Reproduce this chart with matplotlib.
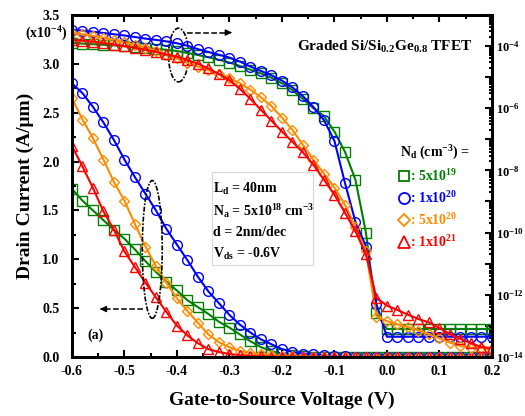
import numpy as np
import matplotlib
matplotlib.use("Agg")
import matplotlib.pyplot as plt
from matplotlib.patches import Ellipse, Rectangle
from matplotlib.lines import Line2D
from matplotlib.ticker import MultipleLocator, FixedLocator, LogLocator, FuncFormatter, NullFormatter

plt.rcParams["font.family"] = ["Liberation Serif", "DejaVu Serif"]
plt.rcParams["font.weight"] = "bold"
plt.rcParams["mathtext.fontset"] = "custom"
plt.rcParams["mathtext.rm"] = "Liberation Serif:bold"
plt.rcParams["mathtext.bf"] = "Liberation Serif:bold"
plt.rcParams["mathtext.it"] = "Liberation Serif:bold"
plt.rcParams["mathtext.default"] = "bf"
plt.rcParams["axes.unicode_minus"] = False

# gate voltage sweep (V)
vgs = np.round(np.arange(-0.6, 0.2001, 0.02), 2)

# drain current, linear scale (x1e-4 A/um)
lin_5e19 = [1.72, 1.60, 1.50, 1.40, 1.30, 1.21, 1.10, 0.98, 0.87, 0.77, 0.68, 0.58, 0.51, 0.44,
            0.36, 0.30, 0.23, 0.16, 0.10, 0.06, 0.03, 0.015, 0.008, 0.004, 0.002, 0.001,
            0, 0, 0, 0, 0, 0, 0, 0, 0, 0, 0, 0, 0, 0, 0]
lin_1e20 = [2.80, 2.70, 2.56, 2.40, 2.22, 2.02, 1.84, 1.67, 1.50, 1.31, 1.15, 0.99, 0.82, 0.67,
            0.55, 0.43, 0.33, 0.25, 0.18, 0.13, 0.08, 0.05, 0.035, 0.025, 0.015, 0.01, 0.005,
            0.003, 0.002, 0.001, 0, 0, 0, 0, 0, 0, 0, 0, 0, 0, 0]
lin_5e20 = [2.65, 2.43, 2.24, 2.02, 1.79, 1.60, 1.36, 1.13, 0.93, 0.76, 0.60, 0.47, 0.35, 0.23,
            0.15, 0.10, 0.06, 0.04, 0.025, 0.015, 0.01, 0.005, 0.003, 0.002, 0.001,
            0, 0, 0, 0, 0, 0, 0, 0, 0, 0, 0, 0, 0, 0, 0, 0]
lin_1e21 = [2.16, 1.95, 1.73, 1.49, 1.30, 1.08, 0.92, 0.76, 0.61, 0.46, 0.32, 0.22, 0.14, 0.08,
            0.05, 0.03, 0.018, 0.01, 0.006, 0.004, 0.002, 0.001,
            0, 0, 0, 0, 0, 0, 0, 0, 0, 0, 0, 0, 0, 0, 0, 0, 0, 0, 0]

# drain current, log scale (log10 of A/um)
log_5e19 = [-3.90, -3.92, -3.94, -3.96, -3.98, -4.00, -4.03, -4.06, -4.09, -4.12, -4.16, -4.22,
            -4.29, -4.36, -4.44, -4.53, -4.64, -4.76, -4.88, -5.02, -5.20, -5.42, -5.70, -6.00,
            -6.25, -6.75, -7.40, -8.30, -10.0, -12.6, -13.10, -13.10, -13.10, -13.10, -13.10,
            -13.10, -13.10, -13.10, -13.10, -13.10, -13.10]
log_1e20 = [-3.47, -3.50, -3.54, -3.58, -3.62, -3.66, -3.71, -3.76, -3.80, -3.85, -3.91, -3.99,
            -4.10, -4.19, -4.28, -4.37, -4.50, -4.66, -4.80, -4.94, -5.11, -5.33, -5.61, -5.96,
            -6.38, -7.05, -8.40, -9.65, -10.45, -12.3, -13.35, -13.35, -13.35, -13.35, -13.35,
            -13.35, -13.35, -13.35, -13.35, -13.35, -13.35]
log_5e20 = [-3.58, -3.62, -3.67, -3.73, -3.80, -3.88, -3.96, -4.06, -4.16, -4.28, -4.40, -4.54,
            -4.66, -4.78, -4.90, -5.03, -5.20, -5.40, -5.65, -5.93, -6.30, -6.70, -7.18, -7.66,
            -8.10, -8.55, -9.10, -9.82, -10.60, -12.70, -12.85, -12.95, -13.04, -13.15, -13.27,
            -13.40, -13.54, -13.65, -13.70, -13.72, -13.73]
log_1e21 = [-3.80, -3.83, -3.86, -3.90, -3.95, -4.00, -4.06, -4.12, -4.19, -4.27, -4.34, -4.45,
            -4.57, -4.72, -4.90, -5.10, -5.38, -5.70, -6.05, -6.40, -6.75, -7.08, -7.42, -7.82,
            -8.30, -8.78, -9.36, -9.95, -10.70, -12.10, -12.35, -12.49, -12.64, -12.78, -12.89,
            -13.07, -13.27, -13.42, -13.56, -13.68, -13.72]

lin_data = [lin_5e19, lin_1e20, lin_5e20, lin_1e21]
log_data = [log_5e19, log_1e20, log_5e20, log_1e21]
labels = [": 5x10$^{19}$", ": 1x10$^{20}$", ": 5x10$^{20}$", ": 1x10$^{21}$"]
colors = ["#008000", "#0000ff", "#ff8c00", "#ff0000"]
markers = ["s", "o", "D", "^"]
msizes = [6.5, 7, 5.5, 7.5]

fig = plt.figure(figsize=(5.25, 4.16), dpi=100)
ax = fig.add_axes([0.137, 0.142, 0.8, 0.822])
ax2 = ax.twinx()

for y, c, m, s in zip(lin_data, colors, markers, msizes):
    ax.plot(vgs, y, color=c, lw=1.5, marker=m, ms=s, mfc="none", mec=c, mew=1)

for y, c, m, s in zip(log_data, colors, markers, msizes):
    ax2.plot(vgs, 10.0 ** np.array(y), color=c, lw=1.5, marker=m, ms=s, mfc="none", mec=c, mew=1)

# left axis
ax.set_xlim(-0.6, 0.2)
ax.set_ylim(0, 3.5)
ax.xaxis.set_major_locator(MultipleLocator(0.1))
ax.xaxis.set_minor_locator(MultipleLocator(0.05))
ax.yaxis.set_major_locator(MultipleLocator(0.5))
ax.yaxis.set_minor_locator(MultipleLocator(0.25))
ax.xaxis.set_major_formatter(FuncFormatter(lambda v, p: f"{v:.1f}" if abs(v) > 1e-9 else "0.0"))
ax.yaxis.set_major_formatter(FuncFormatter(lambda v, p: f"{v:.1f}"))
ax.tick_params(which="both", direction="in", top=True, right=False, width=1.5, labelsize=10)
ax.tick_params(axis="y", which="major", length=5, pad=9)
ax.tick_params(axis="x", which="major", length=5, pad=6)
ax.tick_params(which="minor", length=3)
ax.set_xlabel("Gate-to-Source Voltage (V)", fontsize=14, fontweight="bold", labelpad=10)
ax.set_ylabel("Drain Current (A/\u03bcm)", fontsize=14, fontweight="bold", labelpad=6)

# right axis (log)
ax2.set_yscale("log")
ax2.set_ylim(1e-14, 1e-3)
ax2.yaxis.set_major_locator(FixedLocator(10.0 ** np.arange(-14, -2)))
ax2.yaxis.set_minor_locator(LogLocator(base=10, subs=np.arange(2, 10), numticks=20))
ax2.yaxis.set_minor_formatter(NullFormatter())


def even_decades(v, p):
    e = int(round(np.log10(v)))
    return f"$10^{{{e}}}$" if e % 2 == 0 else ""


ax2.yaxis.set_major_formatter(FuncFormatter(even_decades))
ax2.tick_params(which="both", direction="in", width=1.5, labelsize=9, pad=3)
ax2.tick_params(which="major", length=5)
ax2.tick_params(which="minor", length=2.5)

for a in (ax, ax2):
    for sp in a.spines.values():
        sp.set_linewidth(2)

# annotations
fig.text(0.088, 0.918, "(x10$^{-4}$)", fontsize=10, fontweight="bold", ha="center", va="center")
ax.text(0.952, 0.906, "Graded Si/Si$_{0.2}$Ge$_{0.8}$ TFET", transform=ax.transAxes,
        fontsize=11, fontweight="bold", ha="right", va="center")
ax.text(0.055, 0.064, "(a)", transform=ax.transAxes, fontsize=10, fontweight="bold",
        ha="center", va="center")

ax.add_patch(Rectangle((0.333, 0.269), 0.241, 0.272, transform=ax.transAxes,
                       facecolor="white", edgecolor="#d8d8d8", lw=0.8, zorder=1))
cond = ["L$_d$ = 40nm", "N$_a$ = 5x10$^{18}$ cm$^{-3}$", "d = 2nm/dec", "V$_{ds}$ = -0.6V"]
for txt, yy in zip(cond, [0.491, 0.427, 0.365, 0.301]):
    ax.text(0.337, yy, txt, transform=ax.transAxes, fontsize=10, fontweight="bold",
            ha="left", va="center", zorder=5)

# ellipses with dashed arrows pointing to the axis each group uses
ax.add_patch(Ellipse((-0.397, 3.09), 0.038, 0.55, fill=False, ec="k", lw=1.2,
                     ls=(0, (3, 1, 1, 1)), zorder=6))
ax.plot([-0.38, -0.30], [3.32, 3.32], "k--", lw=1.1, zorder=6)
ax.annotate("", xy=(-0.29, 3.32), xytext=(-0.305, 3.32),
            arrowprops=dict(arrowstyle="-|>", color="k", lw=1, mutation_scale=9), zorder=6)
ax.add_patch(Ellipse((-0.447, 1.10), 0.038, 1.41, fill=False, ec="k", lw=1.2,
                     ls=(0, (3, 1, 1, 1)), zorder=6))
ax.plot([-0.464, -0.54], [0.49, 0.49], "k--", lw=1.1, zorder=6)
ax.annotate("", xy=(-0.552, 0.49), xytext=(-0.537, 0.49),
            arrowprops=dict(arrowstyle="-|>", color="k", lw=1, mutation_scale=9), zorder=6)

# legend
handles = [Line2D([], [], ls="none", marker=m, ms=s + 1, mfc="none", mec=c, mew=1.3)
           for c, m, s in zip(colors, markers, msizes)]
leg = ax2.legend(handles, labels, title="N$_d$ (cm$^{-3}$) =", loc="upper left",
                 bbox_to_anchor=(0.765, 0.645), frameon=False, handlelength=0.6,
                 handletextpad=0.1, labelspacing=0.45, borderpad=0, alignment="left",
                 prop={"weight": "bold", "size": 10},
                 title_fontproperties={"weight": "bold", "size": 10})
for t, c in zip(leg.get_texts(), colors):
    t.set_color(c)

fig.savefig("out.png", dpi=100)
